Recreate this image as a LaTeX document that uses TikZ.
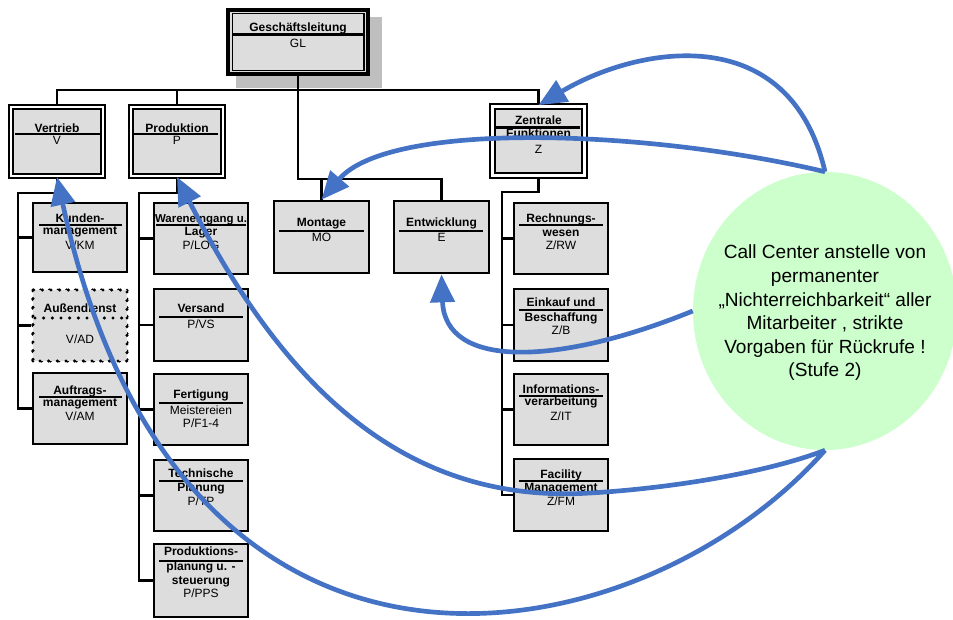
\documentclass[tikz,border=0pt]{standalone}
\usepackage{fontspec}
\setmainfont{Liberation Sans}
\usetikzlibrary{arrows.meta,fit,shapes.geometric,calc}
\definecolor{boxgrey}{HTML}{DDDDDD}
\definecolor{shadowgrey}{HTML}{BFBFBF}
\definecolor{callgreen}{HTML}{CCFFCC}
\definecolor{arrowblue}{HTML}{4472C4}
\begin{document}
\begin{tikzpicture}[x=0.75pt,y=-0.75pt,
  smallbox/.style={draw=black, line width=2pt, fill=boxgrey, inner sep=0pt},
  dotbox/.style={draw=black, line width=2.6pt, fill=boxgrey, inner sep=0pt, line cap=round, dash pattern=on 0pt off 6.5pt},
  mainbox/.style={draw=black, line width=1.6pt, double=white, double distance=1.6pt, fill=boxgrey, inner sep=0pt},
  heavybox/.style={draw=black, line width=2pt, double=white, double distance=1.6pt, fill=boxgrey, inner sep=0pt},
  topbox/.style={draw=black, line width=3.2pt, fill=boxgrey, inner sep=0pt},
  innerframe/.style={draw=black, line width=0.9pt, inner sep=0pt},
  shadowbox/.style={fill=shadowgrey, draw=none, inner sep=0pt},
  sepline/.style={draw=black, line width=2pt},
  dotsep/.style={draw=black, line width=2.6pt, line cap=round, dash pattern=on 0pt off 6.5pt},
  orgline/.style={draw=black, line width=1.8pt},
  tb/.style={font=\bfseries\fontsize{9}{10}\selectfont, inner sep=0pt, anchor=base},
  tr/.style={font=\fontsize{9}{10}\selectfont, inner sep=0pt, anchor=base},
  callbubble/.style={ellipse, fill=callgreen, draw=none, inner sep=0pt, minimum width=198pt, minimum height=208.5pt},
  calltext/.style={align=center, inner sep=0pt, font=\fontsize{14.3}{17.7}\selectfont},
  bluearrow/.style={draw=arrowblue, line width=3.5pt, -{Triangle[length=21pt,width=18pt]}},
]
\clip (0,0) rectangle (953,619);
\fill[white] (0,0) rectangle (953,619);

% ---------- shadow ----------
\node[shadowbox, fit={(236,17) (382,88)}] (glshadow) {};

% coordinates for buses and spines
\coordinate (busy) at (0,90);
\coordinate (mobus) at (0,179);
\coordinate (vspine) at (18,193);
\coordinate (pspine) at (139,193);
\coordinate (zspine) at (502,192);

% boxes as nodes
\node[topbox, fit={(228,10) (368,74)}] (gl) {};
\node[innerframe, fit={(232.5,13.5) (364,70.5)}] (glin) {};

\node[mainbox, fit={(11,107) (103,176)}] (vt) {};
\node[mainbox, fit={(131,107) (223,176)}] (pr) {};
\node[heavybox, fit={(492.5,106.5) (584.5,175.5)}] (zf) {};

\node[smallbox, fit={(274,201) (369,273)}] (mo) {};
\node[smallbox, fit={(394,201) (489,273)}] (ew) {};

\node[smallbox, fit={(33,203) (127,272)}] (km) {};
\node[dotbox,   fit={(33,290) (127,361)}] (ad) {};
\node[smallbox, fit={(33,373) (127,444)}] (am) {};

\node[smallbox, fit={(154,203) (248,274)}] (log) {};
\node[smallbox, fit={(154,289) (248,361)}] (vs) {};
\node[smallbox, fit={(154,374) (248,445)}] (fe) {};
\node[smallbox, fit={(154,460) (248,531)}] (tp) {};
\node[smallbox, fit={(154,544) (248,617)}] (pps) {};

\node[smallbox, fit={(514,203) (608,274)}] (rw) {};
\node[smallbox, fit={(514,289) (608,361)}] (eb) {};
\node[smallbox, fit={(514,374) (608,445)}] (it) {};
\node[smallbox, fit={(514,459) (608,531)}] (fm) {};

% ---------- org lines ----------
\draw[orgline] (vt.north) -- (vt.north |- busy) -- (zf.north |- busy) -- (zf.north);
\draw[orgline] (pr.north) -- (pr.north |- busy);
\draw[orgline] (gl.south) -- (gl.south |- mobus) -- (ew.north |- mobus) -- (ew.north);
\draw[orgline] (mo.north) -- (mo.north |- mobus);

\draw[orgline] (vt.south) -- (vt.south |- vspine) -- (vspine) -- (vspine |- am.west) -- (am.west);
\draw[orgline] (km.west) -- (km.west -| vspine);
\draw[orgline] (ad.west) -- (ad.west -| vspine);

\draw[orgline] (pr.south) -- (pr.south |- pspine) -- (pspine) -- (pspine |- pps.west) -- (pps.west);
\draw[orgline] (log.west) -- (log.west -| pspine);
\draw[orgline] (vs.west) -- (vs.west -| pspine);
\draw[orgline] (fe.west) -- (fe.west -| pspine);
\draw[orgline] (tp.west) -- (tp.west -| pspine);

\draw[orgline] (zf.south) -- (zf.south |- zspine) -- (zspine) -- (zspine |- fm.west) -- (fm.west);
\draw[orgline] (rw.west) -- (rw.west -| zspine);
\draw[orgline] (eb.west) -- (eb.west -| zspine);
\draw[orgline] (it.west) -- (it.west -| zspine);

% redraw boxes on top of the lines
\path[topbox] (228,10) rectangle (368,74);
\path[innerframe] (232.5,13.5) rectangle (364,70.5);
\path[mainbox] (11,107) rectangle (103,176);
\path[mainbox] (131,107) rectangle (223,176);
\path[heavybox] (492.5,106.5) rectangle (584.5,175.5);
\path[smallbox] (274,201) rectangle (369,273);
\path[smallbox] (394,201) rectangle (489,273);
\path[smallbox] (33,203) rectangle (127,272);
\path[dotbox] (33,290) rectangle (127,361);
\path[smallbox] (33,373) rectangle (127,444);
\path[smallbox] (154,203) rectangle (248,274);
\path[smallbox] (154,289) rectangle (248,361);
\path[smallbox] (154,374) rectangle (248,445);
\path[smallbox] (154,460) rectangle (248,531);
\path[smallbox] (154,544) rectangle (248,617);
\path[smallbox] (514,203) rectangle (608,274);
\path[smallbox] (514,289) rectangle (608,361);
\path[smallbox] (514,374) rectangle (608,445);
\path[smallbox] (514,459) rectangle (608,531);

% ---------- texts and separators ----------
\node[tb] (gl1) at (298,31.5) {Geschäftsleitung};
\draw[sepline] (232,34.5) -- (364,34.5);
\node[tr] (gl2) at (298,47) {GL};

\node[tb] (vt1) at (57,132) {Vertrieb};
\draw[sepline] (15,134) -- (100,134);
\node[tr] (vt2) at (57,144) {V};

\node[tb] (pr1) at (177,132) {Produktion};
\draw[sepline] (133,134) -- (218,134);
\node[tr] (pr2) at (177,144) {P};

\node[tb] (zf1) at (538.5,124) {Zentrale};
\draw[sepline] (495,127.5) -- (580,127.5);
\node[tb] (zf2) at (538.5,137) {Funktionen};
\node[tr] (zf3) at (538.5,153) {Z};

\node[tb] (mo1) at (321.5,226.5) {Montage};
\draw[sepline] (279,231) -- (364,231);
\node[tr] (mo2) at (321.5,241) {MO};

\node[tb] (ew1) at (441.5,226.5) {Entwicklung};
\draw[sepline] (399,231) -- (483,231);
\node[tr] (ew2) at (441.5,241) {E};

\node[tb] (km1) at (80,222) {Kunden-};
\draw[sepline] (39,225) -- (122,225);
\node[tb] (km2) at (80,234) {management};
\node[tr] (km3) at (80,249) {V/KM};

\node[tb] (ad1) at (80,312.5) {Außendienst};
\draw[dotsep] (35,318) -- (125,318);
\node[tr] (ad2) at (80,343) {V/AD};

\node[tb] (am1) at (80,394) {Auftrags-};
\draw[sepline] (39,397) -- (122,397);
\node[tb] (am2) at (80,406) {management};
\node[tr] (am3) at (80,420) {V/AM};

\node[tb, font=\bfseries\fontsize{8.6}{10}\selectfont] (log1) at (201,222) {Wareneingang u.};
\draw[sepline] (156,225) -- (246,225);
\node[tb] (log2) at (201,235) {Lager};
\node[tr] (log3) at (201,249) {P/LOG};

\node[tb] (vs1) at (201,312.5) {Versand};
\draw[sepline] (159,317) -- (243,317);
\node[tr] (vs2) at (201,328) {P/VS};

\node[tb] (fe1) at (201,398) {Fertigung};
\draw[sepline] (159,403) -- (243,403);
\node[tr] (fe2) at (201,414) {Meistereien};
\node[tr] (fe3) at (201,427) {P/F1-4};

\node[tb] (tp1) at (201,477.5) {Technische};
\draw[sepline] (159,481) -- (243,481);
\node[tb] (tp2) at (201,491) {Planung};
\node[tr] (tp3) at (201,505.5) {P/TP};

\node[tb] (pps1) at (201,555) {Produktions-};
\draw[sepline] (159,561) -- (243,561);
\node[tb] (pps2) at (201,570) {planung u. -};
\node[tb] (pps3) at (201,584) {steuerung};
\node[tr] (pps4) at (201,597) {P/PPS};

\node[tb] (rw1) at (561,222) {Rechnungs-};
\draw[sepline] (519,225) -- (603,225);
\node[tb] (rw2) at (561,236) {wesen};
\node[tr] (rw3) at (561,249) {Z/RW};

\node[tb] (eb1) at (561,306) {Einkauf und};
\draw[sepline] (519,310) -- (603,310);
\node[tb] (eb2) at (561,321) {Beschaffung};
\node[tr] (eb3) at (561,334) {Z/B};

\node[tb] (it1) at (561,393) {Informations-};
\draw[sepline] (519,396) -- (603,396);
\node[tb] (it2) at (561,405) {verarbeitung};
\node[tr] (it3) at (561,420) {Z/IT};

\node[tb] (fm1) at (561,478) {Facility};
\draw[sepline] (519,481) -- (603,481);
\node[tb] (fm2) at (561,491) {Management};
\node[tr] (fm3) at (561,505) {Z/FM};

% ---------- call center bubble ----------
\node[callbubble] (cc) at (825,311) {};
\node[calltext] (cctext) at (825,313) {Call Center anstelle von\\permanenter\\„Nichterreichbarkeit“ aller\\Mitarbeiter , strikte\\Vorgaben für Rückrufe !\\(Stufe 2)};

% ---------- blue arrows ----------
\coordinate (c4m) at (590,493);
\draw[bluearrow] (cc.north) .. controls (790,20) and (640,45) .. (zf.north);
\draw[bluearrow] (cc.north) .. controls (650,130) and (390,120) .. (mo.north);
\draw[bluearrow] (cc.west) .. controls (560,365) and (445,370) .. (ew.south);
\draw[bluearrow] (cc.south) .. controls (760,475) and (660,489) .. (c4m) .. controls (400,505) and (280,380) .. (pr.south);
\draw[bluearrow] (cc.south) .. controls (640,660) and (180,750) .. (vt.south);
\end{tikzpicture}
\end{document}
